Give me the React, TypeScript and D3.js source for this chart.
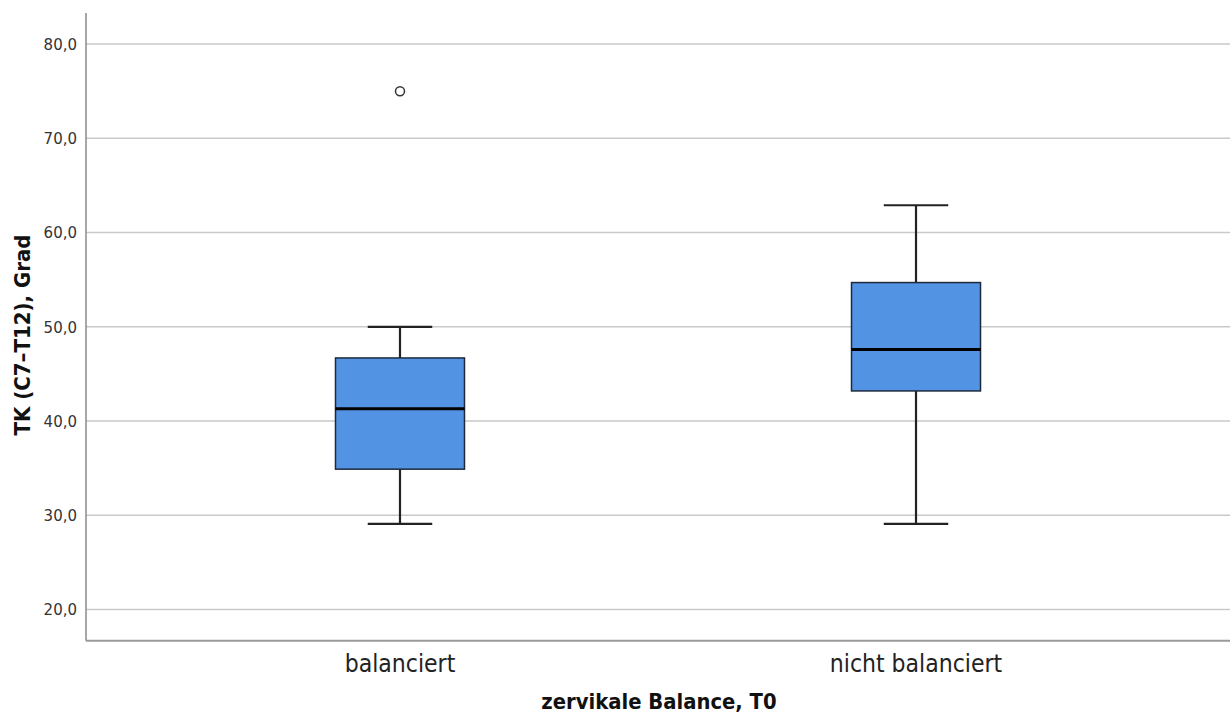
import React from "react";
import * as d3 from "d3";

const categories = ["balanciert", "nicht balanciert"];
const whiskerLow = [29.1, 29.1];
const q1 = [34.9, 43.2];
const median = [41.3, 47.6];
const q3 = [46.7, 54.7];
const whiskerHigh = [50.0, 62.9];
const outliers: { cat: string; value: number }[] = [{ cat: "balanciert", value: 75.0 }];
const yTicks = [20, 30, 40, 50, 60, 70, 80];

const W = 1232;
const H = 720;
const left = 86;
const right = 1230;
const top = 13;
const bottom = 640.7;

export default function App() {
  const y = d3.scaleLinear().domain([16.7, 83.3]).range([bottom, top]);
  const x = d3.scalePoint<string>().domain(categories).range([left, right]).padding(0.6085);
  const step = x.step();
  const boxW = step * 0.25;
  const capW = boxW * 0.5;
  const fmt = (v: number) => d3.format(".1f")(v).replace(".", ",");

  return (
    <svg
      width={W}
      height={H}
      style={{ position: "absolute", left: 0, top: 0, background: "#fff" }}
    >
      <rect x={0} y={0} width={W} height={H} fill="#fff" />
      {yTicks.map((t) => (
        <g key={t}>
          <line x1={left} x2={right} y1={y(t)} y2={y(t)} stroke="#c9c9c9" strokeWidth={1.5} />
          <text
            x={77}
            y={y(t)}
            dy="0.38em"
            textAnchor="end"
            fontFamily="DejaVu Sans"
            fontSize={15}
            fill="#333"
          >
            {fmt(t)}
          </text>
        </g>
      ))}
      <line x1={left} x2={left} y1={top} y2={bottom} stroke="#8a8a8a" strokeWidth={1.5} />
      <line x1={left} x2={right} y1={bottom} y2={bottom} stroke="#9a9a9a" strokeWidth={2} />

      {categories.map((c, i) => {
        const cx = x(c)!;
        return (
          <g key={c}>
            <line x1={cx} x2={cx} y1={y(whiskerHigh[i])} y2={y(q3[i])} stroke="#222" strokeWidth={2.2} />
            <line x1={cx} x2={cx} y1={y(q1[i])} y2={y(whiskerLow[i])} stroke="#222" strokeWidth={2.2} />
            <line
              x1={cx - capW / 2}
              x2={cx + capW / 2}
              y1={y(whiskerHigh[i])}
              y2={y(whiskerHigh[i])}
              stroke="#222"
              strokeWidth={2.2}
            />
            <line
              x1={cx - capW / 2}
              x2={cx + capW / 2}
              y1={y(whiskerLow[i])}
              y2={y(whiskerLow[i])}
              stroke="#222"
              strokeWidth={2.2}
            />
            <rect
              x={cx - boxW / 2}
              y={y(q3[i])}
              width={boxW}
              height={y(q1[i]) - y(q3[i])}
              fill="#5393e4"
              stroke="#1e2a3c"
              strokeWidth={1.5}
            />
            <line
              x1={cx - boxW / 2}
              x2={cx + boxW / 2}
              y1={y(median[i])}
              y2={y(median[i])}
              stroke="#000"
              strokeWidth={3}
            />
            <text
              x={cx}
              y={672}
              textAnchor="middle"
              fontFamily="DejaVu Sans Condensed"
              fontSize={24.5}
              fill="#222"
            >
              {c}
            </text>
          </g>
        );
      })}

      {outliers.map((o, i) => (
        <circle
          key={i}
          cx={x(o.cat)!}
          cy={y(o.value)}
          r={4.5}
          fill="#fff"
          stroke="#333"
          strokeWidth={1.5}
        />
      ))}

      <text
        x={(left + right) / 2 + 1}
        y={709}
        textAnchor="middle"
        fontFamily="DejaVu Sans Condensed"
        fontWeight="bold"
        fontSize={21.8}
        fill="#111"
      >
        zervikale Balance, T0
      </text>
      <text
        transform={`translate(30, 335) rotate(-90)`}
        textAnchor="middle"
        fontFamily="DejaVu Sans Condensed"
        fontWeight="bold"
        fontSize={22}
        fill="#111"
      >
        TK (C7–T12), Grad
      </text>
    </svg>
  );
}
